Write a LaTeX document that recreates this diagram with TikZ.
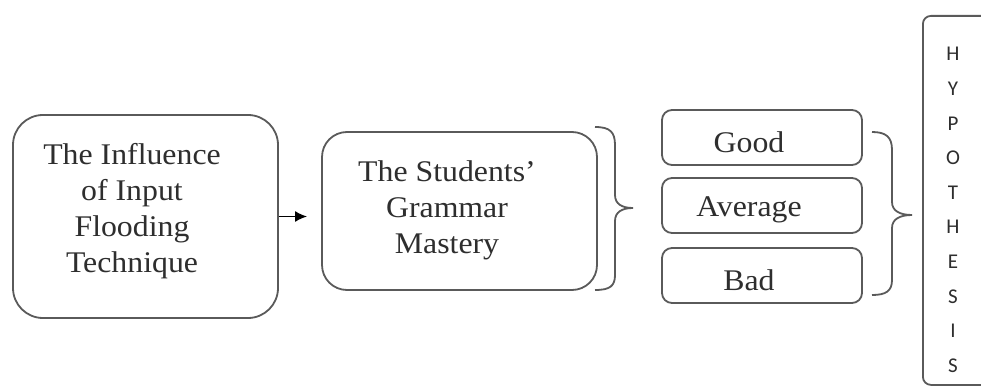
\documentclass[tikz,border=0pt]{standalone}
\usepackage{fontspec}
\setmainfont{Liberation Serif}[FakeStretch=1.06]
\newfontfamily\hypfont{Carlito}
\usetikzlibrary{arrows.meta}
\definecolor{linegray}{HTML}{5A5A5A}
\definecolor{txtgray}{HTML}{2E2E2E}
\begin{document}
\begin{tikzpicture}[x=1pt,y=-1pt,
  boxline/.style={draw=linegray, line width=1.8pt, rounded corners=#1, fill=white},
  txt/.style={text=txtgray, align=center, inner sep=0pt, font=\fontsize{30}{36}\selectfont},
  brace/.style={draw=linegray, line width=1.8pt},
  arrowline/.style={draw=black, line width=1.8pt, -{Latex[length=12pt,width=11pt]}}]
\useasboundingbox (0,0) rectangle (981,387);
\clip (0,0) rectangle (981,387);
% boxes
\node[boxline=30pt, minimum width=265pt, minimum height=203pt] (b1) at (145.5,216.5) {};
\node[txt] (t1) at (132,211) {The Influence\\of Input\\Flooding\\Technique};
\node[boxline=25pt, minimum width=275pt, minimum height=158pt] (b2) at (459.5,211) {};
\node[txt] (t2) at (447,210) {The Students'\\Grammar\\Mastery};
\node[boxline=10pt, minimum width=200pt, minimum height=55pt] (good) at (762,137.5) {};
\node[boxline=10pt, minimum width=200pt, minimum height=55pt] (avg) at (762,205.5) {};
\node[boxline=10pt, minimum width=200pt, minimum height=55pt] (bad) at (762,275.5) {};
\node[txt] (tg) at (749,142) {Good};
\node[txt] (ta) at (749,210) {Average};
\node[txt] (tb) at (749,280) {Bad};
\node[boxline=8pt, anchor=north west, minimum width=90pt, minimum height=369pt] (hyp) at (922,15) {};
\node[text=txtgray, align=center, inner sep=0pt, font=\hypfont\fontsize{21}{34.6}\selectfont] (th) at (953,210) {H\\Y\\P\\O\\T\\H\\E\\S\\I\\S};
% arrow
\draw[arrowline, shorten >=14pt] (b1.east) -- (b1.east -| b2.west);
% braces
\coordinate (br1) at (633,208);
\draw[brace] (595,127) .. controls (610,127) and (615,132) .. (615,145) -- (615,195)
  .. controls (615,204) and (622,208) .. (br1)
  .. controls (622,208) and (615,212) .. (615,221) -- (615,275)
  .. controls (615,286) and (610,290) .. (595,290);
\coordinate (br2) at (912,215);
\draw[brace] (872,132) .. controls (886,132) and (892,137) .. (892,150) -- (892,202)
  .. controls (892,211) and (900,215) .. (br2)
  .. controls (900,215) and (892,219) .. (892,228) -- (892,280)
  .. controls (892,291) and (886,295) .. (872,295);
\end{tikzpicture}
\end{document}
